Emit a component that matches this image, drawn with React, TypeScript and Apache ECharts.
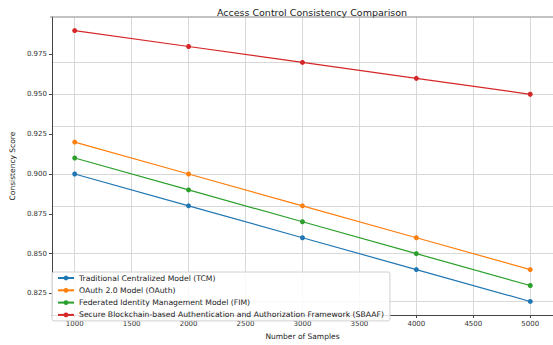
import React, { useEffect, useRef } from "react";
import * as echarts from "echarts";

const samples = [1000, 2000, 3000, 4000, 5000];
const xTicks = [1000, 1500, 2000, 2500, 3000, 3500, 4000, 4500, 5000];
const yTicks = [0.825, 0.85, 0.875, 0.9, 0.925, 0.95, 0.975];
const tcm = [0.9, 0.88, 0.86, 0.84, 0.82];
const oauth = [0.92, 0.9, 0.88, 0.86, 0.84];
const fim = [0.91, 0.89, 0.87, 0.85, 0.83];
const sbaaf = [0.99, 0.98, 0.97, 0.96, 0.95];
const seriesNames = [
  "Traditional Centralized Model (TCM)",
  "OAuth 2.0 Model (OAuth)",
  "Federated Identity Management Model (FIM)",
  "Secure Blockchain-based Authentication and Authorization Framework (SBAAF)",
];
const colors = ["#1f77b4", "#ff7f0e", "#2ca02c", "#d62728"];

const FONT = "DejaVu Sans";

export default function App() {
  const ref = useRef<HTMLDivElement>(null);
  useEffect(() => {
    if (!ref.current) return;
    const chart = echarts.init(ref.current, null, { renderer: "svg" });
    const values = [tcm, oauth, fim, sbaaf];
    const gridLines = [
      ...xTicks.map((v) => ({ xAxis: v })),
      ...yTicks.map((v) => ({ yAxis: v })),
    ];
    chart.setOption({
      animation: false,
      backgroundColor: "#ffffff",
      textStyle: { fontFamily: FONT },
      title: {
        text: "Access Control Consistency Comparison",
        left: 307,
        textAlign: "center",
        top: 2,
        textStyle: { fontFamily: FONT, fontSize: 9.5, fontWeight: "normal", color: "#222" },
      },
      grid: { left: 50, top: 17, right: -12, bottom: 26, containLabel: false },
      legend: {
        orient: "vertical",
        left: 52,
        top: 272,
        z: 20,
        padding: [2, 6, 2, 5],
        itemWidth: 16,
        itemHeight: 6,
        itemGap: 4.3,
        backgroundColor: "rgba(255,255,255,0.85)",
        borderColor: "#d0d0d0",
        borderWidth: 1,
        borderRadius: 2,
        textStyle: { fontFamily: FONT, fontSize: 7.7, color: "#222" },
        data: seriesNames,
      },
      xAxis: {
        type: "value",
        min: 800,
        max: 5200,
        name: "Number of Samples",
        nameLocation: "middle",
        nameGap: 17,
        nameTextStyle: { fontFamily: FONT, fontSize: 7.5, color: "#222" },
        axisLine: { show: true, onZero: false, lineStyle: { color: "#444", width: 1 } },
        axisTick: { show: true, length: 3, customValues: xTicks, lineStyle: { color: "#444" } },
        axisLabel: {
          customValues: xTicks,
          fontFamily: FONT,
          fontSize: 7,
          color: "#333",
          margin: 5,
          formatter: (v: number) => String(v),
        },
        splitLine: { show: false },
      },
      yAxis: {
        type: "value",
        min: 0.8115,
        max: 0.9985,
        name: "Consistency Score",
        nameLocation: "middle",
        nameGap: 35,
        nameTextStyle: { fontFamily: FONT, fontSize: 7.5, color: "#222" },
        axisLine: { show: true, onZero: false, lineStyle: { color: "#444", width: 1 } },
        axisTick: { show: true, length: 3, customValues: yTicks, lineStyle: { color: "#444" } },
        axisLabel: {
          customValues: yTicks,
          fontFamily: FONT,
          fontSize: 7,
          color: "#333",
          margin: 5,
          formatter: (v: number) => v.toFixed(3),
        },
        splitLine: { show: false },
      },
      series: [
        {
          name: "__grid",
          type: "line",
          data: [],
          silent: true,
          z: 0,
          zlevel: 0,
          markLine: {
            silent: true,
            z: 0,
            symbol: ["none", "none"],
            label: { show: false },
            lineStyle: { color: "#d8d8d8", width: 1, type: "solid" },
            emphasis: { disabled: true },
            data: gridLines,
          },
        },
        ...seriesNames.map((name, i) => ({
          name,
          type: "line",
          data: samples.map((s, j) => [s, values[i][j]]),
          symbol: "circle",
          symbolSize: 5,
          color: colors[i],
          lineStyle: { width: 1.2, color: colors[i] },
          itemStyle: { color: colors[i] },
          z: 6 + i,
        })),
      ],
      graphic: [
        {
          type: "line",
          shape: { x1: 50, y1: 17, x2: 553, y2: 17 },
          style: { stroke: "#888", lineWidth: 1 },
          z: 10,
        },
      ],
    });
    return () => chart.dispose();
  }, []);
  return <div ref={ref} style={{ width: 553, height: 345, position: "absolute", left: 0, top: 0 }} />;
}
